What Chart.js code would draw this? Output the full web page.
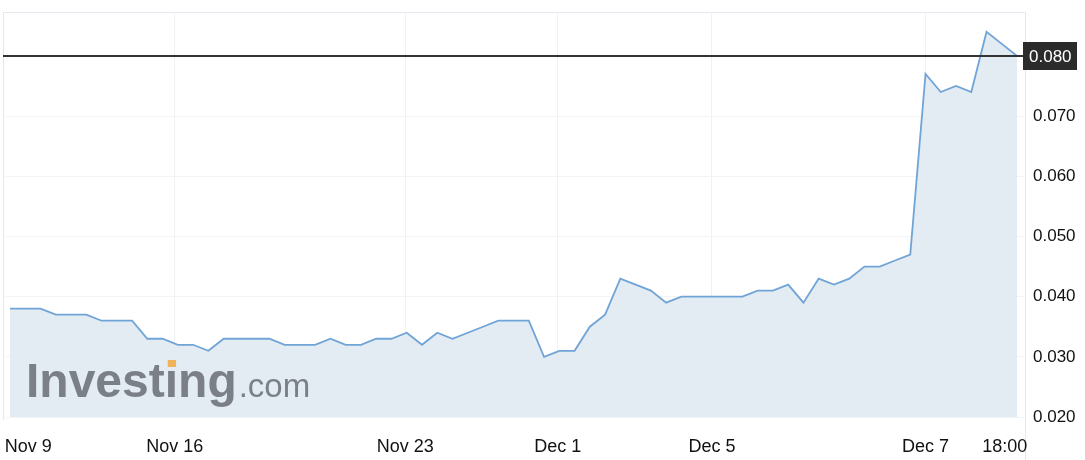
<!DOCTYPE html>
<html>
<head>
<meta charset="utf-8">
<script src="https://cdn.jsdelivr.net/npm/chart.js@4.4.1/dist/chart.umd.min.js"></script>
<style>
  html, body { margin: 0; padding: 0; background: #fff; }
  #wrap { position: relative; width: 1085px; height: 460px; }
</style>
</head>
<body>
<div id="wrap"><canvas id="chart"></canvas></div>
<script>
// price per bar, Nov 9 -> Dec 7 18:00
const prices = [
  0.038, 0.038, 0.038, 0.037, 0.037, 0.037, 0.036, 0.036, 0.036, 0.033,
  0.033, 0.032, 0.032, 0.031, 0.033, 0.033, 0.033, 0.033, 0.032, 0.032,
  0.032, 0.033, 0.032, 0.032, 0.033, 0.033, 0.034, 0.032, 0.034, 0.033,
  0.034, 0.035, 0.036, 0.036, 0.036, 0.030, 0.031, 0.031, 0.035, 0.037,
  0.043, 0.042, 0.041, 0.039, 0.040, 0.040, 0.040, 0.040, 0.040, 0.041,
  0.041, 0.042, 0.039, 0.043, 0.042, 0.043, 0.045, 0.045, 0.046, 0.047,
  0.077, 0.074, 0.075, 0.074, 0.084, 0.082, 0.080
];
// x tick labels and where they sit (in bar index units)
const xTickLabels = ['Nov 9', 'Nov 16', 'Nov 23', 'Dec 1', 'Dec 5', 'Dec 7', '18:00'];
const xTickPos = [1.2, 10.8, 25.9, 35.9, 46.0, 60.0, 65.2];
const yTicks = [0.020, 0.030, 0.040, 0.050, 0.060, 0.070];

const lastPrice = prices[prices.length - 1];
const FONT = '"Liberation Sans", Arial, Helvetica, sans-serif';

const frame = {
  id: 'frame',
  beforeDraw(chart) {
    const { ctx, chartArea: a } = chart;
    ctx.save();
    ctx.strokeStyle = '#e3e7ee';
    ctx.lineWidth = 1;
    ctx.beginPath();
    ctx.moveTo(a.left + 0.5, a.bottom + 3);
    ctx.lineTo(a.left + 0.5, a.top + 0.5);
    ctx.lineTo(a.right + 0.5, a.top + 0.5);
    ctx.lineTo(a.right + 0.5, chart.height);
    ctx.stroke();
    ctx.restore();
  },
  afterDatasetsDraw(chart) {
    const { ctx, chartArea: a, scales } = chart;
    ctx.save();
    // watermark
    ctx.fillStyle = '#7b8088';
    ctx.textBaseline = 'alphabetic';
    ctx.font = 'bold 48px ' + FONT;
    const wx = 26, wy = 397;
    ctx.fillText('Investing', wx, wy);
    const w1 = ctx.measureText('Investing').width;
    const w0 = ctx.measureText('Invest').width;
    const wi = ctx.measureText('i').width;
    ctx.fillStyle = '#f0b25a';
    ctx.fillRect(wx + w0 + 3, wy - 37, wi - 5, 7);
    ctx.fillStyle = '#7b8088';
    ctx.font = '33px ' + FONT;
    ctx.fillText('.com', wx + w1 + 2, wy);

    // last price line + tag
    const y = Math.round(scales.y.getPixelForValue(lastPrice));
    ctx.strokeStyle = '#333';
    ctx.lineWidth = 2;
    ctx.beginPath();
    ctx.moveTo(a.left, y);
    ctx.lineTo(a.right - 2, y);
    ctx.stroke();
    ctx.fillStyle = '#2b2b2b';
    ctx.fillRect(a.right - 2, y - 14, 54, 28);
    ctx.fillStyle = '#fff';
    ctx.font = '17px ' + FONT;
    ctx.textBaseline = 'middle';
    ctx.fillText(lastPrice.toFixed(3), a.right + 4, y + 1);
    ctx.restore();
  }
};

new Chart(document.getElementById('chart'), {
  type: 'line',
  data: {
    datasets: [{
      data: prices.map((v, i) => ({ x: i, y: v })),
      borderColor: '#70a4d7',
      borderWidth: 1.8,
      backgroundColor: '#e3ecf3',
      fill: 'start',
      pointRadius: 0,
      tension: 0
    }]
  },
  options: {
    responsive: true,
    maintainAspectRatio: false,
    animation: false,
    layout: { padding: { left: 3, top: 12, right: 0, bottom: 0 } },
    plugins: { legend: { display: false }, tooltip: { enabled: false } },
    scales: {
      x: {
        type: 'linear',
        min: -0.46,
        max: 66.52,
        afterBuildTicks: s => { s.ticks = xTickPos.map(v => ({ value: v })); },
        afterFit: s => { s.height = 43; s.paddingLeft = 0; s.paddingRight = 0; },
        grid: {
          drawTicks: false,
          color: c => (c.index === 0 || c.index === xTickPos.length - 1) ? 'rgba(0,0,0,0)' : '#eff1f4'
        },
        border: { display: false },
        ticks: {
          autoSkip: false,
          maxRotation: 0,
          padding: 19,
          color: '#111',
          font: { family: FONT, size: 18 },
          callback: (v, i) => xTickLabels[i]
        }
      },
      y: {
        position: 'right',
        min: 0.020,
        max: 0.0873,
        afterBuildTicks: s => { s.ticks = yTicks.map(v => ({ value: v })); },
        afterFit: s => { s.width = 60; s.paddingTop = 0; s.paddingBottom = 0; },
        grid: { drawTicks: false, color: '#f3f4f6' },
        border: { display: false },
        ticks: {
          padding: 8,
          color: '#111',
          font: { family: FONT, size: 17 },
          callback: v => v.toFixed(3)
        }
      }
    }
  },
  plugins: [frame]
});
</script>
</body>
</html>
